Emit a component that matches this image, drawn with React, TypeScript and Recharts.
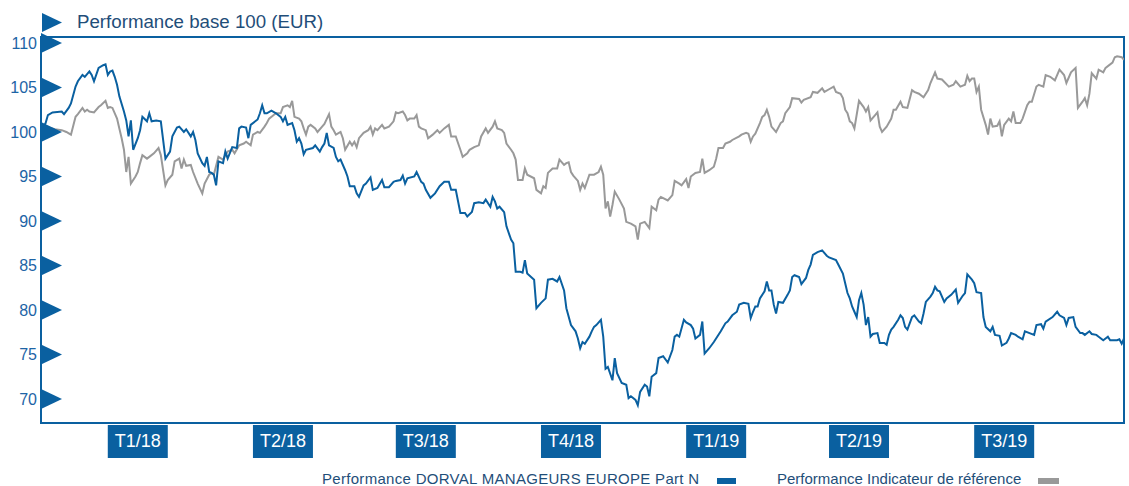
import { LineChart, Line, XAxis, YAxis, ReferenceArea } from "recharts";

// trading-day index (0 = start of period) and base-100 value
const FUND: [number, number][] = [
  [0, 100.0], [2, 101.0], [3, 101.9], [5, 102.2], [9, 102.3], [10, 102.0], [12, 102.7], [13, 103.2],
  [15, 105.1], [16, 105.7], [18, 106.4], [19, 106.2], [21, 106.8], [22, 106.4], [23, 105.7], [25, 107.2],
  [27, 107.5], [28, 107.6], [29, 106.4], [30, 106.8], [31, 106.9], [32, 106.2], [33, 105.3], [34, 104.0],
  [36, 102.3], [37, 101.3], [38, 99.5], [39, 101.3], [40, 98.0], [42, 99.3], [43, 100.2], [44, 101.7],
  [46, 101.2], [47, 102.1], [48, 101.2], [50, 101.3], [52, 101.2], [53, 99.1], [54, 97.0], [56, 97.8],
  [57, 99.5], [59, 100.5], [60, 100.6], [62, 100.0], [63, 100.3], [65, 99.5], [66, 100.0], [67, 99.1],
  [68, 97.6], [70, 96.5], [71, 96.2], [72, 97.2], [73, 95.5], [74, 95.4], [75, 95.2], [76, 94.0],
  [77, 96.7], [79, 96.5], [80, 97.8], [81, 97.0], [83, 98.3], [85, 98.2], [86, 100.4], [87, 100.6],
  [89, 100.5], [90, 99.3], [91, 100.8], [94, 101.4], [95, 102.1], [96, 103.0], [97, 102.1], [98, 102.1],
  [100, 102.4], [102, 102.1], [104, 101.7], [105, 101.2], [106, 101.7], [107, 100.8], [109, 101.0], [110, 100.2],
  [111, 98.9], [112, 99.3], [113, 98.7], [114, 97.5], [115, 98.0], [118, 98.2], [119, 98.5], [121, 97.8],
  [122, 98.3], [123, 98.7], [124, 99.9], [125, 98.5], [127, 98.2], [128, 97.2], [129, 96.7], [130, 96.9],
  [132, 95.7], [133, 95.0], [134, 93.9], [136, 93.9], [137, 93.1], [138, 92.7], [140, 94.0], [141, 94.2],
  [143, 94.9], [144, 93.5], [146, 93.7], [148, 94.6], [149, 93.8], [151, 93.8], [153, 94.4], [154, 94.5],
  [156, 94.6], [157, 95.1], [158, 94.2], [159, 94.8], [162, 95.0], [163, 95.5], [165, 94.4], [166, 94.2],
  [167, 93.5], [169, 92.6], [171, 93.1], [173, 93.9], [175, 94.4], [177, 94.4], [178, 93.5], [180, 93.5],
  [182, 90.9], [184, 90.9], [185, 90.5], [187, 91.0], [188, 92.0], [190, 92.1], [192, 92.0], [193, 92.4],
  [195, 91.6], [196, 92.7], [197, 92.2], [198, 91.4], [199, 91.6], [201, 91.0], [202, 89.4], [204, 87.9],
  [205, 87.5], [206, 84.3], [208, 84.3], [209, 84.2], [210, 85.6], [211, 84.1], [214, 83.4], [215, 80.2],
  [217, 80.8], [219, 81.3], [220, 83.4], [222, 83.5], [224, 83.2], [225, 83.7], [227, 82.2], [228, 80.2],
  [230, 78.3], [232, 77.6], [233, 76.8], [234, 75.7], [235, 76.4], [236, 76.2], [238, 77.0], [239, 77.6],
  [240, 78.1], [241, 78.3], [243, 78.9], [244, 77.0], [245, 73.4], [246, 73.6], [248, 72.1], [249, 74.6],
  [250, 72.9], [252, 71.8], [254, 71.6], [255, 70.1], [256, 70.3], [258, 69.9], [259, 69.3], [260, 70.8],
  [262, 71.6], [263, 71.4], [264, 70.3], [265, 72.5], [267, 72.9], [268, 74.6], [270, 74.8], [272, 74.1],
  [274, 75.5], [275, 77.0], [276, 77.2], [277, 77.0], [279, 78.9], [280, 78.6], [282, 78.3], [283, 77.9],
  [284, 76.8], [286, 77.2], [287, 78.7], [288, 75.1], [290, 75.7], [292, 76.4], [295, 77.6], [297, 78.5],
  [298, 78.7], [300, 79.4], [302, 79.8], [303, 80.6], [305, 80.8], [307, 80.7], [308, 79.1], [309, 79.8],
  [310, 80.4], [311, 80.4], [312, 81.3], [314, 82.1], [315, 83.2], [316, 82.2], [317, 82.2], [318, 80.6],
  [319, 79.6], [320, 80.9], [322, 80.8], [324, 81.7], [325, 82.2], [326, 83.7], [327, 83.9], [329, 83.7],
  [330, 82.9], [332, 83.6], [333, 84.5], [334, 85.1], [335, 86.2], [337, 86.5], [339, 86.7], [341, 86.1],
  [342, 85.9], [345, 85.6], [346, 85.1], [348, 84.1], [349, 83.0], [350, 81.9], [351, 81.3], [352, 80.4],
  [353, 79.8], [354, 79.2], [355, 81.1], [356, 81.9], [357, 80.6], [358, 78.3], [359, 79.2], [360, 77.0],
  [361, 77.3], [363, 77.4], [364, 76.3], [366, 76.3], [367, 76.1], [368, 77.2], [369, 77.8], [370, 78.1],
  [372, 78.9], [373, 79.4], [374, 79.1], [375, 78.1], [376, 77.8], [378, 79.2], [379, 79.4], [381, 78.7],
  [382, 78.5], [383, 79.6], [384, 80.9], [386, 81.5], [387, 81.9], [388, 82.6], [389, 82.2], [390, 82.1],
  [392, 80.9], [393, 81.3], [395, 81.7], [397, 82.3], [398, 80.8], [400, 81.6], [401, 81.9], [402, 84.0],
  [404, 83.4], [405, 83.0], [406, 82.0], [408, 81.9], [409, 79.2], [410, 78.1], [412, 77.6], [413, 78.1],
  [414, 77.2], [416, 77.1], [417, 76.0], [419, 76.3], [420, 76.8], [421, 77.4], [423, 77.2], [424, 77.0],
  [426, 76.7], [427, 77.6], [429, 77.4], [431, 77.2], [432, 78.3], [434, 78.4], [435, 77.9], [436, 78.7],
  [439, 79.2], [441, 79.8], [442, 79.4], [444, 79.1], [445, 78.3], [446, 79.1], [448, 79.2], [449, 78.1],
  [451, 77.4], [452, 77.4], [453, 77.2], [455, 77.6], [456, 77.3], [458, 77.2], [459, 77.0], [461, 76.6],
  [462, 76.8], [463, 77.0], [464, 76.6], [467, 76.6], [468, 76.7], [469, 76.2], [470, 76.8],
];

const INDEX: [number, number][] = [
  [0, 100.0], [2, 100.6], [6, 100.3], [9, 100.2], [11, 100.0], [13, 99.7], [15, 101.7], [16, 102.0],
  [18, 102.7], [19, 102.3], [20, 102.5], [21, 102.3], [23, 102.2], [25, 102.8], [26, 103.0], [28, 103.5],
  [29, 102.7], [30, 102.8], [31, 102.7], [33, 101.5], [34, 100.4], [35, 99.3], [36, 98.0], [37, 95.5],
  [38, 97.2], [39, 94.2], [41, 95.0], [42, 95.5], [43, 96.5], [44, 97.4], [46, 97.0], [47, 97.2],
  [49, 97.6], [51, 98.2], [52, 97.4], [54, 94.0], [55, 94.6], [57, 95.2], [58, 96.7], [60, 97.0],
  [61, 95.9], [62, 96.9], [63, 96.2], [65, 96.3], [66, 95.5], [68, 94.2], [70, 93.1], [71, 94.2],
  [73, 95.2], [74, 95.4], [75, 95.2], [77, 97.2], [79, 96.9], [81, 97.8], [83, 98.0], [84, 97.6],
  [86, 98.5], [88, 98.7], [89, 98.9], [91, 98.5], [92, 99.7], [94, 100.0], [95, 99.9], [97, 100.6],
  [98, 101.0], [99, 101.5], [101, 101.9], [102, 102.1], [104, 102.1], [105, 102.8], [107, 103.0], [108, 102.8],
  [109, 103.5], [110, 101.7], [112, 101.5], [113, 101.2], [114, 100.4], [115, 99.7], [116, 100.6], [117, 100.8],
  [119, 100.4], [120, 100.0], [122, 100.6], [123, 100.9], [125, 102.0], [126, 100.6], [127, 100.2], [128, 99.7],
  [130, 100.0], [131, 99.3], [132, 98.0], [134, 98.9], [135, 98.5], [136, 98.9], [137, 98.3], [138, 99.3],
  [140, 99.9], [142, 100.2], [143, 100.6], [144, 99.7], [145, 100.4], [146, 100.2], [148, 100.8], [149, 100.4],
  [151, 100.6], [153, 101.2], [154, 102.2], [155, 102.1], [157, 102.3], [158, 101.9], [159, 101.3], [160, 101.5],
  [162, 101.5], [163, 101.9], [164, 100.6], [165, 100.4], [167, 100.2], [168, 99.3], [170, 99.7], [172, 100.2],
  [173, 99.9], [175, 100.4], [177, 100.8], [178, 99.5], [180, 99.5], [182, 98.0], [183, 97.2], [185, 97.6],
  [186, 98.0], [188, 98.3], [190, 98.5], [191, 99.5], [193, 100.4], [194, 99.9], [196, 100.6], [197, 101.2],
  [198, 100.4], [200, 100.2], [201, 99.9], [202, 98.7], [204, 98.0], [205, 97.6], [206, 96.9], [207, 94.6],
  [209, 94.6], [210, 95.9], [211, 95.2], [214, 94.8], [215, 93.5], [217, 93.1], [218, 93.9], [219, 93.7],
  [220, 95.4], [222, 95.9], [224, 95.9], [225, 96.9], [227, 96.3], [228, 96.5], [229, 96.6], [230, 95.5],
  [231, 95.1], [233, 94.5], [234, 93.5], [235, 94.2], [236, 93.7], [238, 95.2], [240, 95.2], [242, 95.5],
  [243, 96.1], [244, 95.2], [245, 91.4], [246, 92.2], [247, 90.5], [248, 91.8], [249, 93.3], [251, 92.4],
  [253, 91.4], [254, 89.9], [256, 89.7], [258, 89.4], [259, 87.9], [260, 89.7], [262, 89.9], [264, 89.2],
  [265, 91.6], [267, 91.2], [268, 92.4], [269, 92.7], [272, 92.3], [274, 92.9], [275, 94.5], [277, 94.2],
  [278, 94.0], [280, 94.7], [281, 93.7], [282, 95.0], [284, 95.4], [286, 95.5], [287, 97.0], [288, 95.4],
  [290, 95.7], [292, 96.1], [293, 97.0], [294, 98.2], [296, 98.2], [297, 98.7], [299, 98.9], [300, 99.1],
  [303, 99.5], [304, 99.7], [306, 99.9], [307, 99.8], [308, 98.9], [309, 99.5], [310, 99.8], [312, 101.0],
  [313, 101.7], [314, 101.9], [315, 102.5], [316, 101.7], [317, 100.6], [319, 100.0], [321, 101.0], [322, 101.2],
  [323, 102.1], [325, 102.8], [326, 103.8], [329, 103.7], [330, 103.3], [331, 103.6], [334, 103.9], [335, 104.5],
  [337, 104.4], [339, 104.9], [340, 104.5], [342, 104.8], [344, 105.1], [345, 104.5], [347, 104.3], [348, 103.8],
  [349, 102.5], [350, 102.1], [351, 101.2], [352, 101.0], [353, 100.4], [355, 103.5], [357, 102.8], [358, 102.3],
  [359, 102.8], [360, 101.3], [362, 101.9], [363, 102.2], [364, 100.6], [365, 100.0], [367, 100.6], [369, 101.5],
  [370, 102.5], [371, 102.5], [373, 103.4], [374, 102.8], [376, 102.7], [378, 104.7], [379, 104.5], [381, 104.3],
  [383, 103.9], [385, 104.7], [386, 105.5], [388, 106.7], [389, 106.0], [391, 105.9], [394, 105.1], [396, 105.3],
  [397, 105.7], [399, 105.1], [401, 105.3], [402, 106.3], [403, 105.7], [404, 106.0], [405, 106.0], [406, 104.5],
  [407, 105.1], [408, 102.5], [410, 100.8], [411, 99.7], [412, 101.5], [413, 100.6], [415, 100.7], [416, 101.2],
  [417, 99.5], [418, 100.8], [420, 101.5], [421, 101.2], [422, 102.3], [423, 101.0], [425, 101.0], [426, 101.5],
  [428, 103.0], [429, 103.4], [430, 103.4], [432, 105.1], [433, 105.3], [435, 105.1], [436, 106.4], [438, 106.2],
  [440, 105.8], [442, 107.0], [444, 106.4], [445, 105.5], [447, 106.7], [449, 107.2], [450, 102.7], [452, 103.4],
  [453, 103.8], [454, 103.0], [455, 104.3], [456, 106.6], [458, 106.0], [459, 107.0], [461, 106.7], [462, 107.2],
  [465, 107.8], [466, 108.4], [467, 108.5], [469, 108.4], [470, 108.1],
];

const QUARTER_DAYS = [42, 105, 167, 230, 293, 355, 418];
const QUARTER_LABELS = ["T1/18", "T2/18", "T3/18", "T4/18", "T1/19", "T2/19", "T3/19"];
const Y_TICKS = [70, 75, 80, 85, 90, 95, 100, 105, 110];

const SERIES_NAMES = [
  "Performance DORVAL MANAGEURS EUROPE Part N",
  "Performance Indicateur de référence",
];

const BLUE = "#0a60a0";
const GREY = "#999999";
const TEXT_BLUE = "#1f4e79";
const FONT = "'Liberation Sans', Arial, sans-serif";

const fundData = FUND.map(([day, value]) => ({ day, value }));
const indexData = INDEX.map(([day, value]) => ({ day, value }));

function QuarterTick({ x, y, payload }: any) {
  const i = QUARTER_DAYS.indexOf(payload.value);
  return (
    <g>
      <rect x={x - 30} y={y} width={60} height={33} fill={BLUE} />
      <text x={x} y={y + 22} textAnchor="middle" fill="#ffffff" fontSize={18} fontFamily={FONT}>
        {QUARTER_LABELS[i]}
      </text>
    </g>
  );
}

function ValueTick({ x, y, payload }: any) {
  return (
    <g>
      <text x={x} y={y + 6} textAnchor="end" fill="#1d64a6" fontSize={16} fontFamily={FONT}>
        {payload.value}
      </text>
      <polygon points={`${x + 4},${y - 10} ${x + 25},${y} ${x + 4},${y + 10}`} fill={BLUE} />
    </g>
  );
}

const legendText = {
  position: "absolute" as const,
  top: 472,
  fontSize: 15,
  lineHeight: "14px",
  color: TEXT_BLUE,
  whiteSpace: "nowrap" as const,
};

export default function App() {
  return (
    <div style={{ position: "absolute", left: 0, top: 0, width: 1129, height: 486, background: "#fff", fontFamily: FONT }}>
      <svg width={80} height={40} style={{ position: "absolute", left: 0, top: 0 }}>
        <polygon points="42,13 62,22.5 42,32" fill={BLUE} />
      </svg>
      <div style={{ position: "absolute", left: 77, top: 12, fontSize: 18.7, lineHeight: "20px", color: TEXT_BLUE }}>
        Performance base 100 (EUR)
      </div>

      <LineChart width={1129} height={486} margin={{ top: 37, right: 5, bottom: 23, left: 0 }}>
        <XAxis
          dataKey="day" type="number" domain={[0, 470]} ticks={QUARTER_DAYS}
          axisLine={false} tickLine={false} tickSize={0} tickMargin={2} height={40}
          tick={<QuarterTick />} interval={0} allowDataOverflow
        />
        <YAxis
          type="number" domain={[67.3, 110.67]} ticks={Y_TICKS} width={41}
          axisLine={false} tickLine={false} tickSize={0} tickMargin={4}
          tick={<ValueTick />} interval={0} allowDataOverflow
        />
        <ReferenceArea x1={0} x2={470} y1={67.3} y2={110.67} fill="none" stroke={BLUE} strokeWidth={2} />
        <Line
          data={indexData} dataKey="value" type="linear" stroke={GREY}
          strokeWidth={2} dot={false} isAnimationActive={false} name={SERIES_NAMES[1]}
        />
        <Line
          data={fundData} dataKey="value" type="linear" stroke={BLUE}
          strokeWidth={2} dot={false} isAnimationActive={false} name={SERIES_NAMES[0]}
        />
      </LineChart>

      <div style={{ ...legendText, left: 322, letterSpacing: "0.3px" }}>{SERIES_NAMES[0]}</div>
      <div style={{ position: "absolute", left: 717, top: 478, width: 19, height: 6, background: BLUE }} />
      <div style={{ ...legendText, left: 777 }}>{SERIES_NAMES[1]}</div>
      <div style={{ position: "absolute", left: 1038, top: 478, width: 21, height: 6, background: GREY }} />
    </div>
  );
}
